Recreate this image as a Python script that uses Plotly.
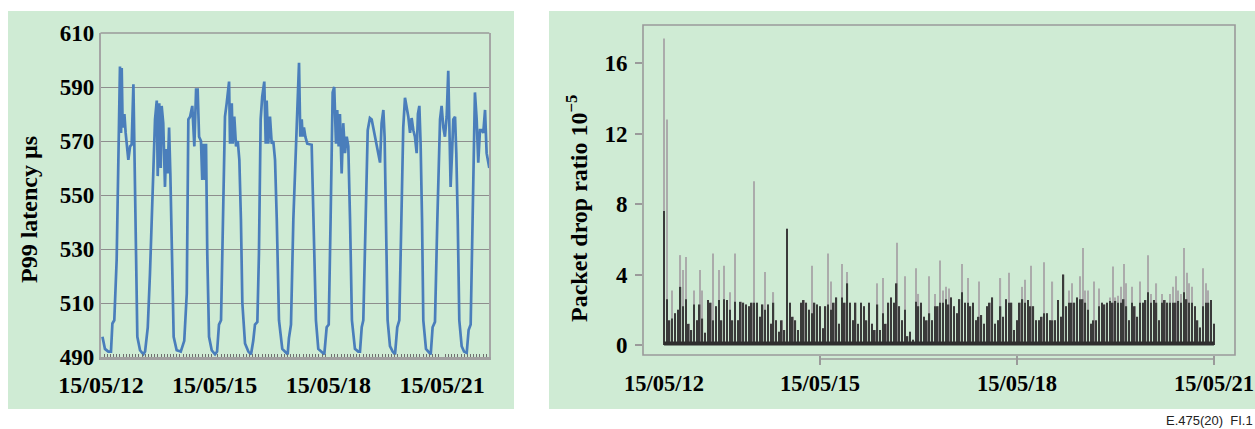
import pandas as pd
import plotly.graph_objects as go

# ---------------- data: left panel (P99 latency, µs) ----------------
# hours since 15/05/12 00:00, one row per daily cycle
lat_hours = [
    0.9, 2.5, 4.6, 6.3, 7.2, 8.4, 9.9, 11.0, 12.0, 12.7, 13.1, 13.7, 14.8, 15.6, 16.3, 17.3, 18.4, 19.4, 20.5, 21.1, 22.0, 23.0, 24.7, 26.8, 27.9,
    29.6, 31.0, 32.5, 34.2, 35.3, 35.9, 36.9, 37.8, 38.4, 39.4, 40.5, 41.2, 42.2, 43.1, 43.9, 44.8, 46.0, 47.9, 50.5,
    52.7, 54.3, 55.3, 56.4, 57.8, 59.1, 60.2, 61.2, 62.1, 63.3, 64.1, 65.0, 65.9, 66.5, 67.3, 68.4, 70.1, 72.2, 73.5,
    74.7, 76.0, 77.4, 78.5, 79.6, 81.1, 81.7, 82.8, 83.4, 84.4, 85.5, 86.6, 87.6, 88.6, 89.5, 91.2, 93.3, 95.0, 96.4,
    97.5, 99.0, 100.0, 101.1, 102.1, 103.4, 104.3, 104.9, 105.9, 107.0, 108.1, 109.1, 110.2, 111.3, 112.7, 114.8, 116.5, 118.2, 119.0,
    120.3, 121.8, 123.9, 125.4, 126.2, 127.1, 127.7, 128.5, 129.4, 130.6, 133.4, 134.4, 136.1, 137.6, 139.8, 141.4,
    142.9, 144.2, 145.4, 146.7, 147.7, 148.8, 149.6, 150.5, 151.3, 152.4, 153.4, 154.5, 155.6, 156.6, 157.7, 158.9, 160.8, 162.9, 164.0,
    165.1, 166.1, 167.8, 168.9, 170.3, 171.4, 172.4, 173.5, 174.6, 175.6, 176.7, 177.7, 178.8, 179.6, 180.5, 181.5, 183.0, 184.7, 186.2,
    187.6, 188.9, 190.4, 191.4, 192.5, 193.6, 194.6, 195.7, 196.7, 197.8, 198.8, 199.9, 200.7, 201.6, 202.4, 203.3, 204.1, 205.8, 207.5, 208.8,
    210.0, 211.5, 213.0, 214.7, 215.7, 216.8, 217.8, 218.9, 219.9, 220.6, 221.4, 222.3, 223.1, 224.2, 225.0, 225.9, 226.9, 228.4, 229.9, 231.6,
    232.8, 234.1, 235.4, 236.8, 237.9, 238.9, 240.0, 241.1, 242.1, 243.2, 244.2, 245.2, 245.9,
]
lat_values = [
    497.5, 493, 492, 492, 502.4, 503.6, 526, 565, 597.6, 573, 597, 575, 580, 573, 568, 563, 568, 568.6, 591, 568, 528, 497.5, 492.5, 491, 492,
    501, 521, 550.6, 578, 585, 557, 584, 560, 583, 576.6, 553, 567, 558, 575, 558, 528, 497.5, 492.5, 492,
    496, 513.5, 578, 579, 583, 568, 589, 589, 571.6, 570, 555.6, 569, 555.6, 569, 528, 497.5, 492.5, 491, 492,
    502, 503.6, 541, 579, 584, 592, 569, 584, 569, 579, 568, 570, 563, 541, 510, 495, 492, 491, 496,
    502, 503, 528, 578, 586.5, 592, 569, 585, 569, 579, 569, 570, 563, 541, 503.6, 493, 492, 491, 497,
    502, 541, 578, 599, 571.6, 578, 571.6, 575, 571.6, 569, 568.6, 541, 503.6, 493, 492, 491,
    501, 502, 541, 588, 590, 569, 581.5, 568, 580, 558, 576.6, 565.5, 571.6, 568, 541, 503.6, 493, 492, 492,
    501, 503.6, 541, 574, 578.5, 578, 575, 571.6, 568, 565.5, 562, 576.6, 581.5, 571.6, 541, 503.6, 494, 492, 491,
    501, 503.6, 541, 575, 586, 583, 579, 573, 578.5, 574, 571.6, 565.5, 580, 583, 569, 541, 503.6, 493, 492, 491,
    501, 503, 541, 578, 583, 575, 571.6, 579, 596, 568, 553, 565.5, 578, 579, 565.5, 541, 503.6, 494, 492, 491.5,
    500, 502, 541, 588, 578, 562, 574, 574, 573, 581.5, 565.5, 562, 560,
]
lat_yticks = [490, 510, 530, 550, 570, 590, 610]

# ---------------- data: right panel (packet drop ratio, 1e-5) ----------------
# hourly samples starting 15/05/12 15:00; tallest reading and dense (dark) part
drop_peak = [
    17.4, 12.8, 1.4, 3.1, 1.8, 2.0, 5.1, 4.25, 5.0, 1.2,
    0.85, 3.1, 1.4, 4.25, 3.1, 0.7, 2.55, 2.4, 5.2, 2.2,
    4.25, 1.4, 4.5, 2.55, 3.0, 1.4, 5.2, 1.4, 2.45, 2.4,
    2.3, 2.2, 2.4, 9.3, 2.4, 1.6, 2.3, 4.15, 2.3, 1.2,
    3.0, 1.4, 0.75, 1.4, 0.85, 6.6, 2.4, 1.6, 1.4, 0.85,
    2.4, 2.55, 2.4, 2.0, 4.5, 2.4, 2.3, 2.2, 0.95, 2.2,
    5.2, 3.6, 2.4,
    2.7, 1.2, 4.6, 2.4, 4.15, 2.4, 1.4, 2.4, 1.2, 2.4,
    2.2, 1.4, 2.4, 1.2, 0.85, 3.5, 0.85, 3.8, 1.2, 2.4,
    2.7, 2.4, 5.8, 2.2, 1.4, 3.9, 0.5, 0.75, 0.3, 4.35,
    2.9, 2.4, 1.6, 1.4, 3.9, 1.4, 2.9, 2.2, 4.8, 3.1,
    3.3, 3.2, 2.7, 2.2, 1.8, 2.6, 4.6, 2.4, 3.8, 2.2,
    2.4, 1.4, 3.6, 1.7, 1.2, 2.2, 2.4, 2.7, 1.2, 1.4,
    3.8, 1.6, 2.6, 4.1, 2.4, 0.85, 1.4, 2.4, 3.3, 3.7,
    2.55,
    4.5, 2.2, 1.4, 1.4, 1.6, 4.7, 1.8, 1.4, 3.6, 1.4,
    2.55, 1.6, 4.0, 2.2, 3.1, 3.5, 2.4, 2.7, 3.9, 5.5,
    3.1, 3.1, 1.2, 3.6, 1.4, 3.2, 2.4, 2.3, 2.4, 2.7,
    4.45, 2.7, 2.8, 3.3, 4.6, 3.5, 1.4, 3.3, 2.2, 1.6,
    3.6, 2.4, 2.55, 5.1, 2.9, 2.55, 3.5, 1.4, 2.9, 2.55,
    2.4, 2.9, 3.3, 3.9, 3.1, 2.9, 5.5, 4.1, 3.5, 3.3,
    2.2, 1.4, 1.0, 4.35, 3.5, 3.1, 2.55, 1.2,
]
drop_body = [
    7.6, 2.6, 1.4, 1.5, 1.8, 2.0, 3.3, 2.2, 2.6, 1.2,
    0.85, 2.3, 1.4, 2.3, 1.5, 0.7, 2.55, 2.4, 1.4, 2.2,
    2.55, 1.4, 2.6, 2.55, 2.0, 1.4, 2.45, 1.4, 2.45, 2.4,
    2.3, 2.2, 2.4, 2.4, 2.4, 1.6, 2.3, 2.0, 2.3, 1.2,
    2.4, 1.4, 0.75, 1.4, 0.85, 6.6, 2.4, 1.6, 1.4, 0.85,
    2.4, 2.55, 2.4, 2.0, 1.8, 2.4, 2.3, 2.2, 0.95, 2.2,
    2.3, 2.0, 2.4,
    2.7, 1.2, 2.7, 2.4, 3.5, 2.4, 1.4, 2.4, 1.2, 2.4,
    2.2, 1.4, 2.4, 1.2, 0.85, 2.3, 0.85, 1.8, 1.2, 2.4,
    2.7, 2.4, 3.5, 2.2, 1.4, 2.0, 0.5, 0.75, 0.3, 2.45,
    2.2, 2.4, 1.6, 1.4, 1.8, 1.4, 2.2, 2.2, 2.4, 2.4,
    2.6, 2.3, 2.7, 2.2, 1.8, 2.6, 3.0, 2.4, 2.4, 2.2,
    2.4, 1.4, 1.6, 1.7, 1.2, 2.2, 2.4, 2.7, 1.2, 1.4,
    2.2, 1.6, 2.6, 2.4, 2.4, 0.85, 1.4, 2.4, 2.6, 2.4,
    2.55,
    2.2, 2.2, 1.4, 1.4, 1.6, 1.8, 1.8, 1.4, 1.4, 1.4,
    2.55, 1.6, 4.0, 2.2, 2.4, 2.4, 2.4, 2.7, 2.6, 2.6,
    2.4, 2.0, 1.2, 1.4, 1.4, 2.2, 2.4, 2.3, 2.4, 2.5,
    2.4, 2.5, 2.4, 2.4, 2.6, 2.2, 1.4, 2.4, 2.2, 1.6,
    2.4, 2.4, 2.55, 3.0, 2.4, 2.55, 2.4, 1.4, 2.4, 2.55,
    2.4, 2.4, 2.4, 2.4, 2.5, 2.4, 3.0, 2.6, 2.4, 2.4,
    2.2, 1.4, 1.0, 2.2, 2.4, 2.4, 2.55, 1.2,
]
drop_yticks = [0, 4, 8, 12, 16]
right_tick_dates = ["2015-05-12 15:00", "2015-05-15", "2015-05-18", "2015-05-21"]
right_tick_labels = ["15/05/12", "15/05/15", "15/05/18", "15/05/21"]

assert len(lat_hours) == len(lat_values)
assert len(drop_peak) == len(drop_body)

lat_times = pd.Timestamp("2015-05-12") + pd.to_timedelta(lat_hours, unit="h")
drop_times = pd.date_range(right_tick_dates[0], periods=len(drop_peak), freq="h")

# ---------------- styling ----------------
W, H = 1255, 429
GREEN = "#cfebd4"
SERIF = "Liberation Serif"


def fx(p):
    return p / W


def fy(p):
    return 1 - p / H


tick_font = dict(family=SERIF, size=23, color="black", weight="bold")
xtick_font = dict(family=SERIF, size=24, color="black", weight="bold")
xtick_font2 = dict(family=SERIF, size=22.5, color="black", weight="bold")

fig = go.Figure()
fig.add_trace(go.Scatter(
    x=lat_times, y=lat_values, mode="lines",
    line=dict(color="#4a7ebb", width=2.7),
    xaxis="x", yaxis="y", showlegend=False, hoverinfo="skip"))
fig.add_trace(go.Bar(
    x=drop_times, y=drop_peak, width=1.5e6,
    marker=dict(color="#ababab", line=dict(width=0)),
    xaxis="x2", yaxis="y2", showlegend=False, hoverinfo="skip"))
fig.add_trace(go.Bar(
    x=drop_times, y=drop_body, width=1.9e6,
    marker=dict(color="#3a3a3a", line=dict(width=0)),
    xaxis="x2", yaxis="y2", showlegend=False, hoverinfo="skip"))

shapes = [
    # green panels
    dict(type="rect", xref="paper", yref="paper", x0=fx(8), x1=fx(514), y0=fy(409), y1=fy(11),
         fillcolor=GREEN, line=dict(width=0), layer="below"),
    dict(type="rect", xref="paper", yref="paper", x0=fx(549), x1=1.0, y0=fy(409), y1=fy(11),
         fillcolor=GREEN, line=dict(width=0), layer="below"),
    # left frame top edge
    dict(type="line", xref="x domain", yref="y domain", x0=0, x1=1, y0=1, y1=1,
         line=dict(color="#9a9a9a", width=1.5)),
    # right frame box
    dict(type="rect", xref="x2 domain", yref="y2 domain", x0=0, x1=1, y0=0, y1=1,
         line=dict(color="#9a9a9a", width=1.6), fillcolor="rgba(0,0,0,0)"),
    # right axis line below the box (between labelled ticks)
    dict(type="line", xref="x2", yref="y2 domain", x0=right_tick_dates[1], x1=right_tick_dates[-1],
         y0=-0.012, y1=-0.012, line=dict(color="#9a9a9a", width=1.5)),
    # dense dark baseline of the drop series
    dict(type="line", xref="x2", yref="y2", x0=drop_times[0], x1=drop_times[-1],
         y0=0.08, y1=0.08, line=dict(color="#2e2e2e", width=4)),
]

annotations = [
    dict(text="P99 latency µs", xref="paper", yref="paper", x=fx(29), y=fy(210),
         textangle=-90, showarrow=False, xanchor="center", yanchor="middle",
         font=dict(family=SERIF, size=24, color="black", weight="bold")),
    dict(text="Packet drop ratio 10<sup>−5</sup>", xref="paper", yref="paper", x=fx(577), y=fy(209),
         textangle=-90, showarrow=False, xanchor="center", yanchor="middle",
         font=dict(family=SERIF, size=24, color="black", weight="bold")),
    dict(text=right_tick_labels[0], xref="x2", yref="paper", x=drop_times[0], y=fy(383),
         showarrow=False, xanchor="center", yanchor="middle", font=xtick_font2),
    dict(text="E.475(20)\u00a0\u00a0FI.1", xref="paper", yref="paper", x=1.0, y=fy(420),
         showarrow=False, xanchor="right", yanchor="middle",
         font=dict(family="Liberation Sans", size=13, color="#222222")),
]

fig.update_layout(
    width=W, height=H, autosize=False,
    margin=dict(l=0, r=0, t=0, b=0, pad=0, autoexpand=False),
    paper_bgcolor="white", plot_bgcolor="rgba(0,0,0,0)",
    barmode="overlay", showlegend=False,
    shapes=shapes, annotations=annotations,
    xaxis=dict(
        domain=[fx(100.5), fx(489.3)], anchor="y", type="date", automargin=False,
        range=["2015-05-11 23:40", "2015-05-22 05:54"],
        tick0="2015-05-12", dtick=3 * 86400000, tickformat="%y/%m/%d",
        ticks="", tickfont=xtick_font, ticklabelstandoff=4, ticklabeloverflow="allow",
        showline=True, linecolor="#a0a0a0", linewidth=3,
        showgrid=False, zeroline=False,
        minor=dict(ticks="inside", dtick=7200000, ticklen=3, tickwidth=1,
                   tickcolor="#707070", showgrid=False),
    ),
    yaxis=dict(
        domain=[fy(357), fy(33)], anchor="x", range=[490, 610], automargin=False,
        tickvals=lat_yticks, ticks="", tickfont=tick_font, ticklabeloverflow="allow",
        showgrid=True, gridcolor="#8e8e8e", gridwidth=1.3,
        showline=True, linecolor="#a5a5a5", linewidth=1.5, mirror=True,
        zeroline=False,
    ),
    xaxis2=dict(
        domain=[fx(643), fx(1235)], anchor="y2", type="date", automargin=False,
        range=["2015-05-12 07:18", "2015-05-21 07:42"],
        tickvals=right_tick_dates[1:], ticktext=right_tick_labels[1:],
        ticks="outside", ticklen=9, tickwidth=1.5, tickcolor="#9a9a9a",
        tickfont=xtick_font2, ticklabelstandoff=-1, ticklabeloverflow="allow",
        showline=False, showgrid=False, zeroline=False,
    ),
    yaxis2=dict(
        domain=[fy(355), fy(25)], anchor="x2", range=[-0.567, 18.16], automargin=False,
        tickvals=drop_yticks, ticks="outside", ticklen=7, tickwidth=1.5,
        tickcolor="#9a9a9a", tickfont=tick_font, ticklabelstandoff=3, ticklabeloverflow="allow",
        showline=False, showgrid=False, zeroline=False,
    ),
)

fig.write_html(
    "out.html",
    config={"displayModeBar": False},
    post_script="document.body.style.margin='0';document.body.style.overflow='hidden';",
)
